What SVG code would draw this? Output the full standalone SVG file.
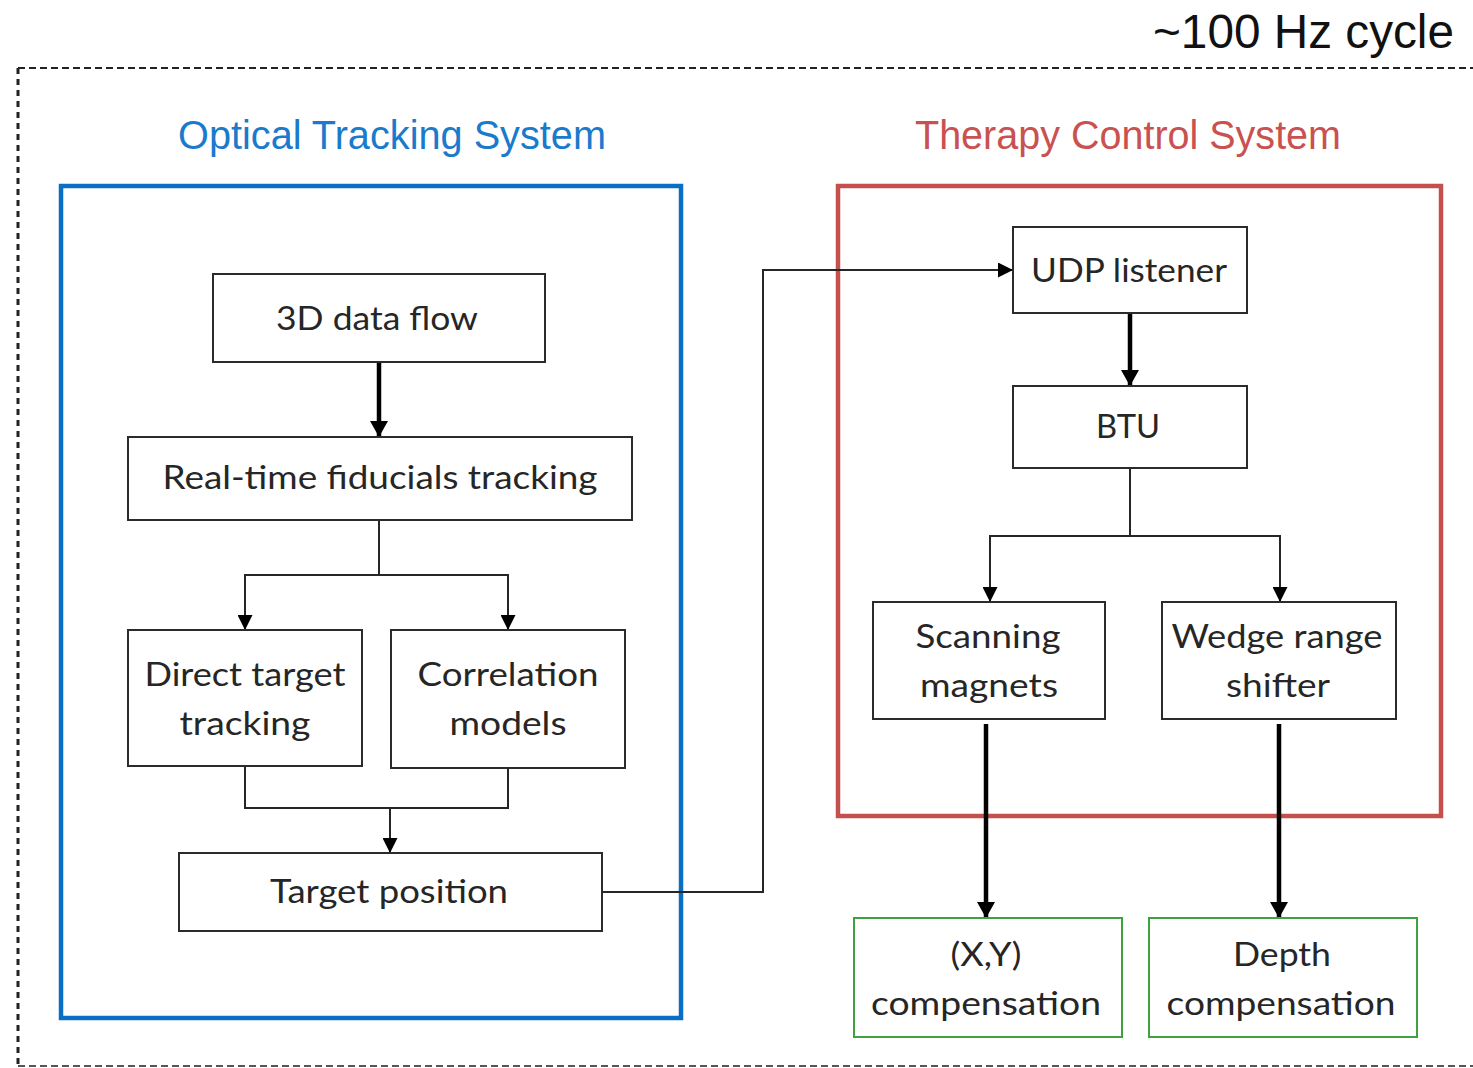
<svg xmlns="http://www.w3.org/2000/svg" width="1473" height="1068" viewBox="0 0 1473 1068">
  <style>
    .node rect { fill: #ffffff; stroke: #2b2b2b; stroke-width: 2; }
    .out rect { fill: #ffffff; stroke: #3ea23e; stroke-width: 2; }
    .label { font-family: Lato, "Open Sans", sans-serif; font-size: 33px; fill: #262626; text-anchor: middle; }
    .title { font-family: "Liberation Sans", Arial, sans-serif; font-size: 40px; text-anchor: middle; }
    .thin { fill: none; stroke: #262626; stroke-width: 2; }
    .thick { fill: none; stroke: #000000; stroke-width: 4.5; }
  </style>
  <defs>
    <marker id="head" viewBox="0 0 15 15" refX="15" refY="7.5" markerWidth="15" markerHeight="15" markerUnits="userSpaceOnUse" orient="auto">
      <path d="M0,0 L15,7.5 L0,15 Z" fill="#000"/>
    </marker>
    <marker id="headBig" viewBox="0 0 16 18" refX="16" refY="9" markerWidth="16" markerHeight="18" markerUnits="userSpaceOnUse" orient="auto">
      <path d="M0,0 L16,9 L0,18 Z" fill="#000"/>
    </marker>
  </defs>

  <rect width="1473" height="1068" fill="#ffffff"/>

  <!-- cycle frame -->
  <g id="cycle-frame">
    <text x="1454" y="48" font-family="Liberation Sans, Arial, sans-serif" font-size="48" fill="#111" text-anchor="end" textLength="301" lengthAdjust="spacingAndGlyphs">~100 Hz cycle</text>
    <path d="M18,68 H1473" fill="none" stroke="#222" stroke-width="2" stroke-dasharray="7,4"/>
    <path d="M18,68 V1066" fill="none" stroke="#222" stroke-width="3" stroke-dasharray="6,5"/>
    <path d="M18,1066 H1473" fill="none" stroke="#555" stroke-width="2" stroke-dasharray="7,4"/>
  </g>

  <!-- system containers -->
  <g id="optical-tracking-system">
    <text class="title" x="392" y="149" fill="#1a7acb" textLength="428" lengthAdjust="spacingAndGlyphs">Optical Tracking System</text>
    <rect x="61" y="186" width="620" height="832" fill="none" stroke="#0a6fc4" stroke-width="4.5"/>
  </g>
  <g id="therapy-control-system">
    <text class="title" x="1128" y="149" fill="#c9514f" textLength="426" lengthAdjust="spacingAndGlyphs">Therapy Control System</text>
    <rect x="838" y="186" width="603" height="630" fill="none" stroke="#c4504d" stroke-width="4.5"/>
  </g>

  <!-- connectors -->
  <g id="connectors">
    <path class="thick" d="M379,362 V437" marker-end="url(#headBig)"/>
    <path class="thin" d="M379,520 V575 H245 V630" marker-end="url(#head)"/>
    <path class="thin" d="M379,575 H508 V630" marker-end="url(#head)"/>
    <path class="thin" d="M245,766 V808 H508 V768"/>
    <path class="thin" d="M390,808 V853" marker-end="url(#head)"/>
    <path class="thin" d="M602,892 H763 V270 H1013" marker-end="url(#head)"/>
    <path class="thick" d="M1130,313 V386" marker-end="url(#headBig)"/>
    <path class="thin" d="M1130,468 V536 H990 V602" marker-end="url(#head)"/>
    <path class="thin" d="M1130,536 H1280 V602" marker-end="url(#head)"/>
    <path class="thick" d="M986,724 V918" marker-end="url(#headBig)"/>
    <path class="thick" d="M1279,724 V918" marker-end="url(#headBig)"/>
  </g>

  <!-- optical tracking nodes -->
  <g id="data-flow" class="node">
    <rect x="213" y="274" width="332" height="88"/>
    <text class="label" x="377" y="330" textLength="202" lengthAdjust="spacingAndGlyphs">3D data flow</text>
  </g>
  <g id="fiducials-tracking" class="node">
    <rect x="128" y="437" width="504" height="83"/>
    <text class="label" x="380" y="489" textLength="435" lengthAdjust="spacingAndGlyphs">Real-time fiducials tracking</text>
  </g>
  <g id="direct-target-tracking" class="node">
    <rect x="128" y="630" width="234" height="136"/>
    <text class="label" x="245" y="686" textLength="201" lengthAdjust="spacingAndGlyphs">Direct target</text>
    <text class="label" x="245" y="735" textLength="131" lengthAdjust="spacingAndGlyphs">tracking</text>
  </g>
  <g id="correlation-models" class="node">
    <rect x="391" y="630" width="234" height="138"/>
    <text class="label" x="508" y="686" textLength="181" lengthAdjust="spacingAndGlyphs">Correlation</text>
    <text class="label" x="508" y="735" textLength="117" lengthAdjust="spacingAndGlyphs">models</text>
  </g>
  <g id="target-position" class="node">
    <rect x="179" y="853" width="423" height="78"/>
    <text class="label" x="389" y="903" textLength="238" lengthAdjust="spacingAndGlyphs">Target position</text>
  </g>

  <!-- therapy control nodes -->
  <g id="udp-listener" class="node">
    <rect x="1013" y="227" width="234" height="86"/>
    <text class="label" x="1129" y="282" textLength="196" lengthAdjust="spacingAndGlyphs">UDP listener</text>
  </g>
  <g id="btu" class="node">
    <rect x="1013" y="386" width="234" height="82"/>
    <text class="label" x="1128" y="438" textLength="64" lengthAdjust="spacingAndGlyphs">BTU</text>
  </g>
  <g id="scanning-magnets" class="node">
    <rect x="873" y="602" width="232" height="117"/>
    <text class="label" x="988" y="648" textLength="145" lengthAdjust="spacingAndGlyphs">Scanning</text>
    <text class="label" x="989" y="697" textLength="138" lengthAdjust="spacingAndGlyphs">magnets</text>
  </g>
  <g id="wedge-range-shifter" class="node">
    <rect x="1162" y="602" width="234" height="117"/>
    <text class="label" x="1277" y="648" textLength="211" lengthAdjust="spacingAndGlyphs">Wedge range</text>
    <text class="label" x="1278" y="697" textLength="104" lengthAdjust="spacingAndGlyphs">shifter</text>
  </g>

  <!-- compensation outputs -->
  <g id="xy-compensation" class="out">
    <rect x="854" y="918" width="268" height="119"/>
    <text class="label" x="986" y="966" textLength="71" lengthAdjust="spacingAndGlyphs">(X,Y)</text>
    <text class="label" x="986" y="1015" textLength="230" lengthAdjust="spacingAndGlyphs">compensation</text>
  </g>
  <g id="depth-compensation" class="out">
    <rect x="1149" y="918" width="268" height="119"/>
    <text class="label" x="1282" y="966" textLength="98" lengthAdjust="spacingAndGlyphs">Depth</text>
    <text class="label" x="1281" y="1015" textLength="229" lengthAdjust="spacingAndGlyphs">compensation</text>
  </g>
</svg>
